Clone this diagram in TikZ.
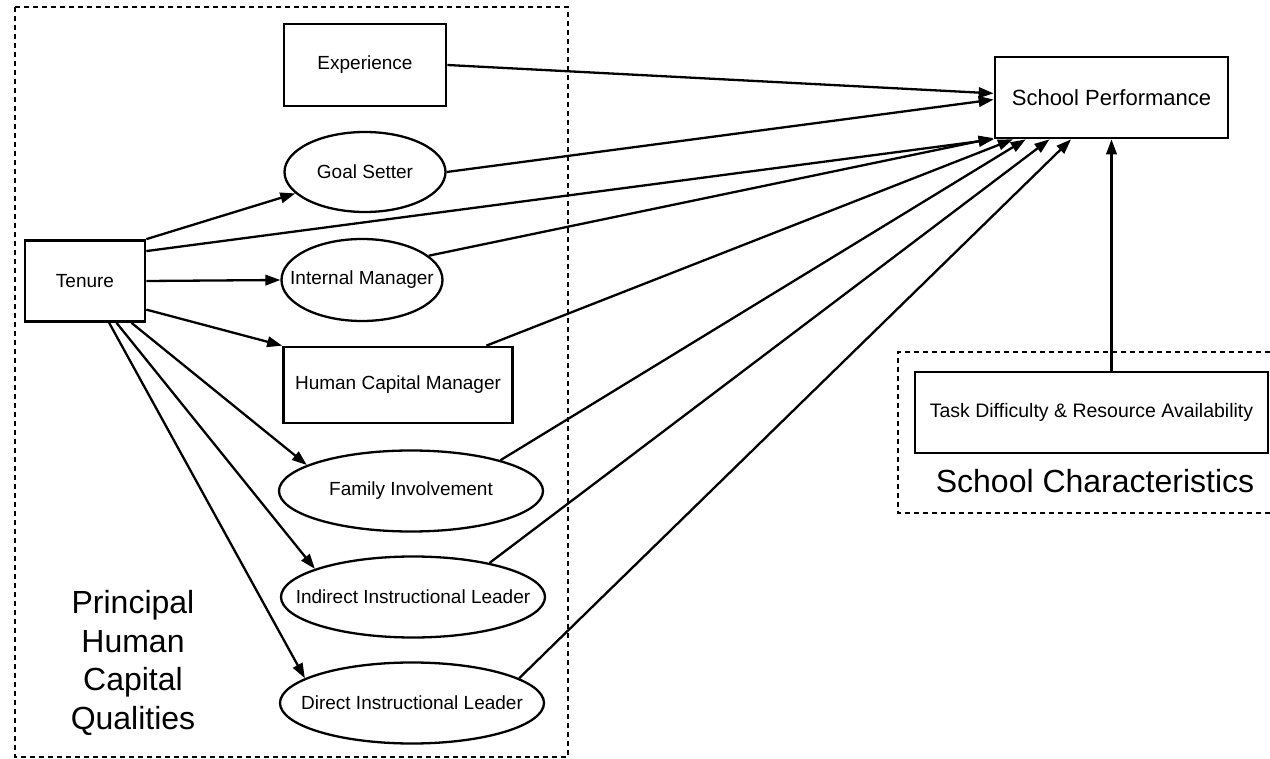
\documentclass[tikz,border=0pt]{standalone}
\usepackage{fontspec}
\setmainfont{Liberation Sans}
\usetikzlibrary{arrows.meta,shapes.geometric}
\newcommand\zbox[1]{\makebox[0pt]{#1}}
\begin{document}
\begin{tikzpicture}[x=1pt,y=-1pt,
  rbox/.style={draw, line width=2.7pt, rectangle, inner sep=0pt, font=\fontsize{19}{22}\selectfont},
  ebox/.style={draw, line width=2.3pt, ellipse, inner sep=0pt, font=\fontsize{19}{22}\selectfont},
  arr/.style={line width=2.3pt, -{Triangle[length=15pt,width=10.5pt]}},
  frame/.style={line width=1.3pt, dash pattern=on 5pt off 4pt},
  bigtxt/.style={font=\fontsize{32}{38.5}\selectfont, align=center, inner sep=0pt}]
\useasboundingbox (0,0) rectangle (1270,759);
\draw[frame] (15,7) rectangle (568,757);
\draw[frame] (1270,352) -| (898,513) -- (1270,513);

\node[rbox, minimum width=162pt, minimum height=82pt] (exp) at (365,65) {Experience};
\node[ebox, minimum width=161pt, minimum height=80pt] (gs) at (365,172) {\zbox{Goal Setter}};
\node[rbox, minimum width=120pt, minimum height=81pt] (ten) at (85,281) {Tenure};
\node[ebox, minimum width=161pt, minimum height=82pt] (im) at (362,280) {\zbox{Internal Manager}};
\node[rbox, minimum width=229pt, minimum height=76pt] (hcm) at (398,385) {Human Capital Manager};
\node[ebox, minimum width=264pt, minimum height=81pt] (fi) at (411,491) {\zbox{Family Involvement}};
\node[ebox, minimum width=264pt, minimum height=81pt] (ii) at (413,597) {\zbox{Indirect Instructional Leader}};
\node[ebox, minimum width=264pt, minimum height=81pt] (di) at (412,703) {\zbox{Direct Instructional Leader}};
\node[rbox, minimum width=233pt, minimum height=81pt, font=\fontsize{22}{26}\selectfont] (sp) at (1111.5,97.5) {School Performance};
\node[rbox, minimum width=353pt, minimum height=81pt, font=\fontsize{19.5}{23}\selectfont] (td) at (1091.5,412.5) {Task Difficulty \& Resource Availability};

\node[bigtxt] (phcq) at (133,663) {Principal\\Human\\Capital\\Qualities};
\node[bigtxt, anchor=base] (sc) at (1095,492) {School Characteristics};

\draw[arr] (exp.east) -- (sp.178);
\draw[arr] (gs.east) -- (sp.181);
\draw[arr] (ten.north east) -- (gs);
\draw[arr] (ten.26) -- (sp.south west);
\draw[arr] (ten.east) -- (im.west);
\draw[arr] (ten.-25) -- (hcm.north west);
\draw[arr] (ten.-42) -- (fi.166);
\draw[arr] (ten.-53) -- (ii.164);
\draw[arr] (ten.-60) -- (di.167);
\draw[arr] (im.20) -- (sp.199.5);
\draw[arr] (hcm.24) -- (sp.203);
\draw[arr] (fi.19) -- (sp.206);
\draw[arr] (ii.24) -- (sp.214);
\draw[arr] (di.13) -- (sp.226);
\draw[arr] (td.north -| sp.south) -- (sp.south);
\end{tikzpicture}
\end{document}
